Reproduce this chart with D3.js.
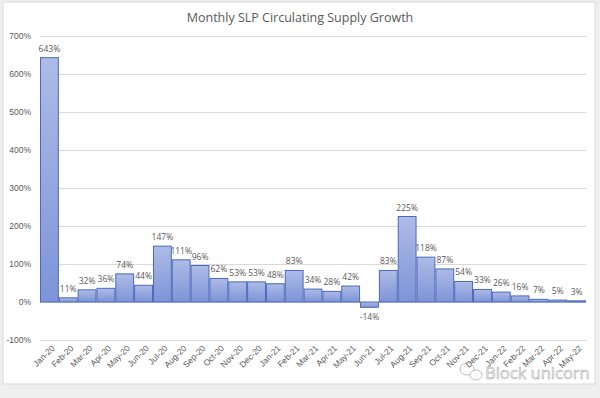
<!DOCTYPE html>
<html><head><meta charset="utf-8">
<script src="https://cdn.jsdelivr.net/npm/d3@7"></script>
<style>body{margin:0;background:#fff;}svg{display:block;font-family:"Open Sans","Noto Sans",sans-serif;}</style>
</head><body>
<svg id="c" width="600" height="398"></svg>
<script>
const months = ["Jan-20","Feb-20","Mar-20","Apr-20","May-20","Jun-20","Jul-20","Aug-20","Sep-20","Oct-20","Nov-20","Dec-20","Jan-21","Feb-21","Mar-21","Apr-21","May-21","Jun-21","Jul-21","Aug-21","Sep-21","Oct-21","Nov-21","Dec-21","Jan-22","Feb-22","Mar-22","Apr-22","May-22"];
const growth = [643,11,32,36,74,44,147,111,96,62,53,53,48,83,34,28,42,-14,83,225,118,87,54,33,26,16,7,5,3];
const yTicks = [-100,0,100,200,300,400,500,600,700];
const title = "Monthly SLP Circulating Supply Growth";

const svg = d3.select("#c");
svg.append("rect").attr("x",0).attr("y",0).attr("width",600).attr("height",398).attr("fill","#efefef");
svg.append("rect").attr("x",3).attr("y",2).attr("width",592).attr("height",382).attr("fill","#fff").attr("stroke","#d9d9d9").attr("stroke-width",1);

const x = d3.scaleBand().domain(months).range([40,586]).padding(0);
const y = d3.scaleLinear().domain([-100,700]).range([340,36]);

const defs = svg.append("defs");
const g = defs.append("linearGradient").attr("id","bg").attr("x1",0).attr("y1",0).attr("x2",0).attr("y2",1);
g.append("stop").attr("offset","0%").attr("stop-color","#aebbe6");
g.append("stop").attr("offset","100%").attr("stop-color","#7e94d8");

svg.append("g").selectAll("line").data(yTicks).join("line")
  .attr("x1",40).attr("x2",586).attr("y1",d=>Math.round(y(d))+0.5).attr("y2",d=>Math.round(y(d))+0.5)
  .attr("stroke","#d9d9d9").attr("stroke-width",1);

const yAxis = d3.axisLeft(y).tickValues(yTicks).tickFormat(d=>d+"%").tickSize(0).tickPadding(0);
const ya = svg.append("g").attr("transform","translate(31,0)").call(yAxis);
ya.select(".domain").remove();
ya.selectAll("text").attr("fill","#595959").style("font-size","8.5px");

svg.append("g").selectAll("rect").data(growth).join("rect")
  .attr("x",(d,i)=>x(months[i])+0.5)
  .attr("width",x.bandwidth()-1)
  .attr("y",d=>y(Math.max(d,0)))
  .attr("height",d=>Math.abs(y(d)-y(0)))
  .attr("fill","url(#bg)")
  .attr("stroke","#4a69bd").attr("stroke-width",1);

svg.append("g").selectAll("text").data(growth).join("text")
  .attr("x",(d,i)=>x(months[i])+x.bandwidth()/2)
  .attr("y",d=>d>=0 ? y(d)-6 : y(d)+13)
  .attr("text-anchor","middle")
  .attr("fill","#595959").style("font-size","8.5px")
  .text(d=>d+"%");

const xAxis = d3.axisBottom(x).tickSize(0).tickPadding(0);
const xa = svg.append("g").attr("transform","translate(0,344)").call(xAxis);
xa.select(".domain").remove();
xa.selectAll("text").attr("fill","#595959").style("font-size","8.5px")
  .attr("text-anchor","end").attr("dy","0.3em")
  .attr("transform","translate(4,3) rotate(-45)");

svg.append("text").attr("x",300).attr("y",22).attr("text-anchor","middle")
  .attr("fill","#595959").style("font-size","12.5px").text(title);

// watermark
const wm = svg.append("g").attr("opacity",0.85);
wm.append("ellipse").attr("cx",467).attr("cy",369).attr("rx",7).attr("ry",6).attr("fill","none").attr("stroke","#b5b5b5").attr("stroke-width",1);
wm.append("ellipse").attr("cx",476).attr("cy",375).attr("rx",6).attr("ry",5).attr("fill","#fff").attr("stroke","#b5b5b5").attr("stroke-width",1);
wm.append("text").attr("x",485).attr("y",379).attr("fill","#f4f4f4").attr("stroke","#a8a8a8").attr("stroke-width",0.6)
  .style("font-size","16.5px").text("Block unicorn");
</script>
</body></html>
